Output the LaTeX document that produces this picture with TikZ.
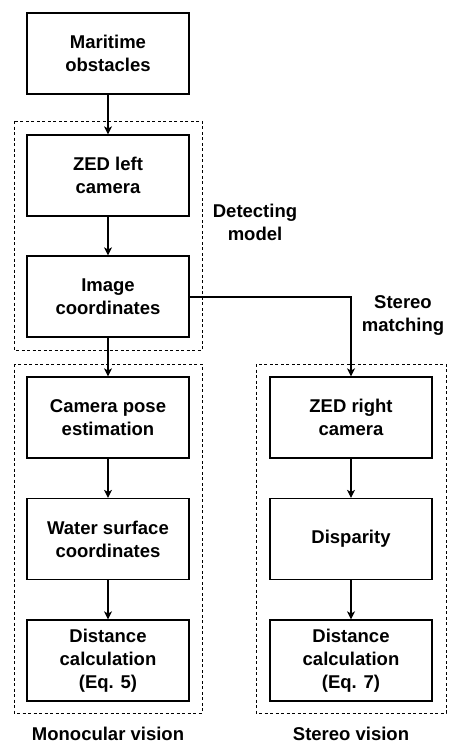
\documentclass[tikz,border=0pt]{standalone}
\usepackage{fontspec}
\setmainfont{Liberation Sans}
\usetikzlibrary{arrows.meta}
\begin{document}
\begin{tikzpicture}[x=1pt,y=-1pt,
  box/.style={draw, line width=1.2pt, minimum width=162pt, minimum height=81pt, align=center, font=\fontsize{18.5}{23}\selectfont\bfseries, inner sep=0pt},
  grp/.style={draw, dashed, dash pattern=on 3pt off 2.5pt, line width=1pt},
  lbl/.style={align=center, font=\fontsize{18.5}{23}\selectfont\bfseries, inner sep=0pt},
  arr/.style={line width=1.2pt, -{Stealth[length=8pt,width=8pt,inset=2pt]}}]
\useasboundingbox (0,0) rectangle (449,744);
% groups
\draw[grp] (14,121) rectangle (202,350);
\draw[grp] (14,364) rectangle (202,713);
\draw[grp] (256,364) rectangle (446,713);
% boxes
\node[box] (mo) at (108,53.5) {Maritime\\obstacles};
\node[box] (zl) at (108,175.5) {ZED left\\camera};
\node[box] (ic) at (108,296.5) {Image\\coordinates};
\node[box] (cp) at (108,417.5) {Camera pose\\estimation};
\node[box] (ws) at (108,539) {Water surface\\coordinates};
\node[box] (d5) at (108,660.5) {Distance\\calculation\\(Eq. 5)};
\node[box] (zr) at (351,417.5) {ZED right\\camera};
\node[box] (dp) at (351,539) {Disparity};
\node[box] (d7) at (351,660.5) {Distance\\calculation\\(Eq. 7)};
% labels
\node[lbl] (lm) at (255,222) {Detecting\\model};
\node[lbl] (ls) at (403,315) {Stereo\\matching};
\node[lbl] (lmv) at (108,734) {Monocular vision};
\node[lbl] (lsv) at (351,734) {Stereo vision};
% connectors
\draw[arr] (mo) -- (zl);
\draw[arr] (zl) -- (ic);
\draw[arr] (ic) -- (cp);
\draw[arr] (cp) -- (ws);
\draw[arr] (ws) -- (d5);
\draw[arr] (ic.east |- 0,297) -| (zr.north);
\draw[arr] (zr) -- (dp);
\draw[arr] (dp) -- (d7);
\end{tikzpicture}
\end{document}
